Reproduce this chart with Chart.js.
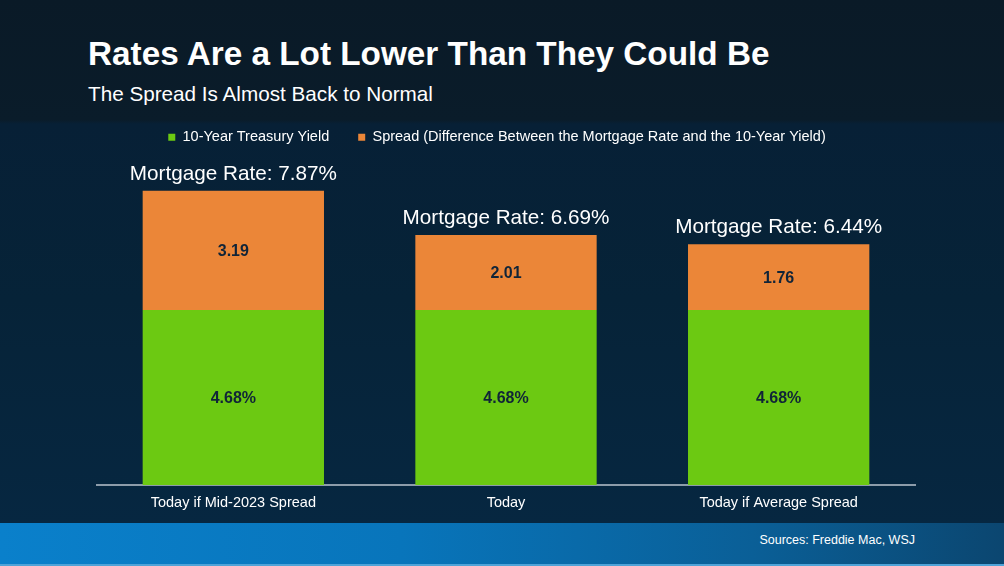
<!DOCTYPE html>
<html>
<head>
<meta charset="utf-8">
<script src="https://cdn.jsdelivr.net/npm/chart.js@4.4.1/dist/chart.umd.min.js"></script>
<style>
  html, body { margin:0; padding:0; }
  body { width:1004px; height:566px; overflow:hidden; position:relative;
         font-family:"Liberation Sans", Arial, sans-serif;
         background: linear-gradient(180deg, #0a1a27 0px, #0a1c2a 120px, #072036 124px, #062338 300px, #062741 523px); }
  #band { position:absolute; left:0; top:523px; width:1004px; height:43px;
          background: linear-gradient(90deg, #0a80cb 0%, #0875bb 40%, #0a5f97 75%, #0b4670 100%); }
  #band::after { content:""; position:absolute; left:0; right:0; bottom:0; height:2px; background:#4ea3d8; }
  #title { position:absolute; left:88px; top:37px; font-size:33.3px; line-height:1; font-weight:bold; color:#fff; white-space:nowrap; }
  #subtitle { position:absolute; left:88px; top:84px; font-size:20.7px; line-height:1; color:#fff; white-space:nowrap; }
  #sources { position:absolute; right:89px; top:534px; font-size:12.5px; line-height:1; color:#fff; white-space:nowrap; }
  #wrap { position:absolute; left:0; top:0; width:1004px; height:566px; }
</style>
</head>
<body>
<div id="band"></div>
<div id="title">Rates Are a Lot Lower Than They Could Be</div>
<div id="subtitle">The Spread Is Almost Back to Normal</div>
<div id="sources">Sources: Freddie Mac, WSJ</div>
<div id="wrap"><canvas id="c" width="1004" height="566"></canvas></div>
<script>
const categories = ["Today if Mid-2023 Spread", "Today", "Today if Average Spread"];
const treasuryYield = [4.68, 4.68, 4.68];
const spread = [3.19, 2.01, 1.76];
const seriesNames = ["10-Year Treasury Yield", "Spread (Difference Between the Mortgage Rate and the 10-Year Yield)"];
const mortgagePrefix = "Mortgage Rate: ";

const GREEN = "#6cc912";
const ORANGE = "#eb8638";

const legendShift = {
  id: "legendShift",
  afterLayout(chart) {
    if (chart.legend) { chart.legend.left -= 9; chart.legend.right -= 9; }
  }
};

const labelsPlugin = {
  id: "barLabels",
  afterDatasetsDraw(chart) {
    const ctx = chart.ctx;
    ctx.save();
    ctx.textAlign = "center";
    ctx.font = "bold 16px 'Liberation Sans', Arial, sans-serif";
    ctx.fillStyle = "#102438";
    ctx.textBaseline = "middle";
    chart.data.datasets.forEach((ds, di) => {
      const meta = chart.getDatasetMeta(di);
      meta.data.forEach((bar, i) => {
        const p = bar.getProps(["x", "y", "base"], true);
        const txt = di === 0 ? ds.data[i].toFixed(2) + "%" : ds.data[i].toFixed(2);
        ctx.fillText(txt, p.x, (p.y + p.base) / 2 + 1);
      });
    });
    ctx.font = "20.7px 'Liberation Sans', Arial, sans-serif";
    ctx.fillStyle = "#ffffff";
    ctx.textBaseline = "alphabetic";
    const topMeta = chart.getDatasetMeta(1);
    topMeta.data.forEach((bar, i) => {
      const total = treasuryYield[i] + spread[i];
      ctx.fillText(mortgagePrefix + total.toFixed(2) + "%", bar.x, bar.y - 11);
    });
    ctx.restore();
  }
};

new Chart(document.getElementById("c"), {
  type: "bar",
  data: {
    labels: categories,
    datasets: [
      { label: seriesNames[0], data: treasuryYield, backgroundColor: GREEN, borderWidth: 0 },
      { label: seriesNames[1], data: spread, backgroundColor: ORANGE, borderWidth: 0 }
    ]
  },
  options: {
    responsive: false,
    animation: false,
    devicePixelRatio: 1,
    datasets: { bar: { categoryPercentage: 1, barPercentage: 0.665 } },
    layout: { padding: { left: 97, right: 89, top: 101, bottom: 45.6 } },
    plugins: {
      legend: {
        position: "top",
        labels: {
          color: "#ffffff",
          font: { size: 14.5, family: "'Liberation Sans', Arial, sans-serif" },
          boxWidth: 7, boxHeight: 7, padding: 29
        }
      },
      tooltip: { enabled: false }
    },
    scales: {
      x: {
        stacked: true,
        grid: { display: false, drawTicks: false },
        border: { display: true, color: "#8d9caa", width: 2 },
        ticks: { color: "#ffffff", padding: 9, font: { size: 14.5, family: "'Liberation Sans', Arial, sans-serif" } }
      },
      y: {
        stacked: true,
        display: false,
        min: 0,
        max: 8.84
      }
    }
  },
  plugins: [legendShift, labelsPlugin]
});
</script>
</body>
</html>
